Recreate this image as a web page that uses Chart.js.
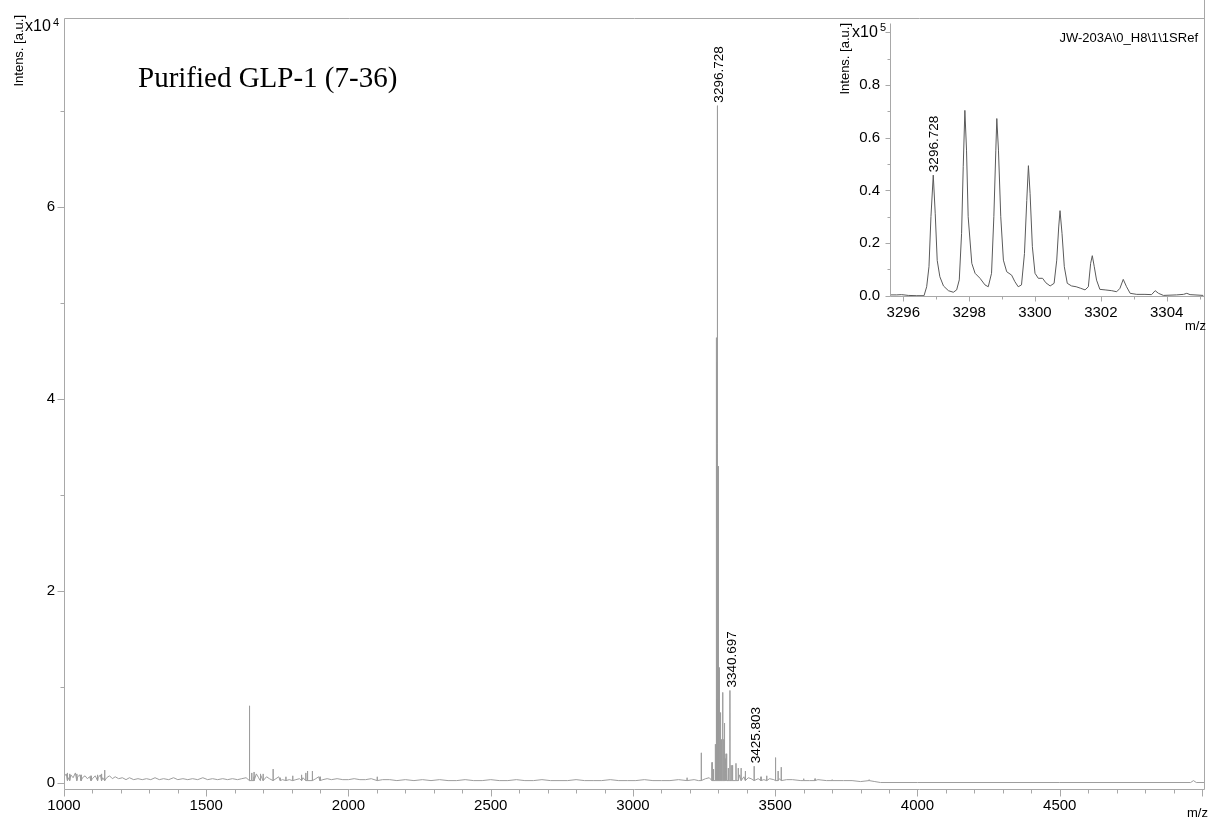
<!DOCTYPE html>
<html><head><meta charset="utf-8">
<script src="https://cdn.jsdelivr.net/npm/chart.js@4/dist/chart.umd.min.js"></script>
<style>
html,body{margin:0;padding:0;background:#fff;}
#wrap{position:relative;width:1209px;height:821px;overflow:hidden;background:#fff;}
canvas{position:absolute;}
.t{position:absolute;font-family:"Liberation Sans",Arial,sans-serif;color:#000;white-space:nowrap;}
.v{writing-mode:vertical-rl;transform:rotate(180deg);}
</style></head>
<body>
<div id="wrap">
<canvas id="main" width="1209" height="821" style="left:0;top:0"></canvas>
<canvas id="inset" width="389" height="340" style="left:820px;top:0"></canvas>
<div class="t" style="left:138px;top:63px;font-family:'Liberation Serif','Times New Roman',serif;font-size:29px;line-height:29px;">Purified GLP-1 (7-36)</div>
<div class="t v" style="left:12px;top:15px;font-size:13px;line-height:13px;">Intens. [a.u.]</div>
<div class="t" style="left:25px;top:18px;font-size:16px;line-height:16px;">x10</div>
<div class="t" style="left:53px;top:17px;font-size:11px;line-height:11px;">4</div>
<div class="t" style="left:1187px;top:806px;font-size:13px;line-height:13px;">m/z</div>
<div class="t v" style="left:838px;top:23px;font-size:13px;line-height:13px;">Intens. [a.u.]</div>
<div class="t" style="left:852px;top:24px;font-size:16px;line-height:16px;">x10</div>
<div class="t" style="left:880px;top:22px;font-size:11px;line-height:11px;">5</div>
<div class="t" style="right:11px;top:31px;font-size:13px;line-height:13px;">JW-203A\0_H8\1\1SRef</div>
<div class="t" style="left:1185px;top:319px;font-size:13px;line-height:13px;">m/z</div>
</div>
<script>
// ---------- Main spectrum (intensity in units of 10^4) ----------
const noiseMz = [1000,1008,1015,1024,1032,1040,1048,1056,1065,1074,1082,1090,1100,1110,1120,1128,1136,1150,1160,1170,1180,1192,1205,1218,1230,1245,1260,1275,1290,1305,1320,1335,1350,1368,1385,1400,1418,1435,1452,1470,1488,1505,1522,1540,1558,1575,1592,1610,1625,1640,1660,1668,1676,1684,1692,1700,1712,1722,1745,1755,1768,1780,1792,1815,1828,1840,1885,1895,1910,1925,1940,1960,1980,2000,2020,2040,2060,2080,2120,2145,2170,2200,2230,2260,2290,2320,2350,2380,2410,2440,2470,2500,2530,2560,2590,2620,2650,2680,2710,2740,2770,2800,2830,2860,2890,2920,2950,2980,3010,3040,3070,3100,3130,3160,3190,3215,3230,3255,3268,3350,3375,3390,3405,3415,3440,3460,3480,3495,3515,3540,3560,3590,3620,3650,3680,3710,3740,3770,3800,3830,3850,3870,4000,4500,4960,4970,4980,5010];
const noiseInt = [0.06,0.09,0.05,0.08,0.05,0.10,0.06,0.08,0.05,0.07,0.04,0.06,0.04,0.07,0.05,0.08,0.05,0.05,0.07,0.04,0.06,0.04,0.05,0.03,0.05,0.03,0.04,0.03,0.04,0.03,0.05,0.03,0.04,0.03,0.05,0.03,0.04,0.03,0.04,0.03,0.05,0.03,0.04,0.03,0.04,0.03,0.04,0.03,0.04,0.05,0.09,0.06,0.09,0.05,0.08,0.04,0.06,0.04,0.04,0.06,0.03,0.05,0.03,0.03,0.04,0.05,0.04,0.06,0.03,0.04,0.03,0.04,0.03,0.03,0.04,0.03,0.03,0.04,0.03,0.03,0.02,0.03,0.02,0.03,0.02,0.03,0.02,0.02,0.03,0.02,0.02,0.03,0.02,0.02,0.03,0.02,0.02,0.03,0.02,0.02,0.02,0.03,0.02,0.02,0.02,0.03,0.02,0.02,0.02,0.03,0.02,0.02,0.02,0.03,0.02,0.03,0.02,0.04,0.05,0.10,0.08,0.06,0.05,0.04,0.04,0.03,0.04,0.03,0.04,0.03,0.03,0.02,0.02,0.03,0.02,0.02,0.02,0.02,0.01,0.02,0.01,0.00,0.00,0.00,0.00,0.02,0.00,0.00];
const peakMz  = [1012,1020,1045,1060,1095,1118,1132,1143,1652,1660,1668,1690,1700,1735,1760,1780,1804,1835,1850,1856,1873,1900,2101,3190,3240,3278,3283,3289.5,3293.2,3296.728,3300.2,3303.7,3307.6,3310,3312,3314.6,3316,3318.6,3321.6,3324,3327,3330,3335,3340.697,3345,3350,3362,3370,3380,3395,3425.803,3450,3470,3501,3510,3521,3600,3640,3700,3830];
const peakInt = [0.10,0.09,0.09,0.08,0.07,0.08,0.09,0.13,0.80,0.10,0.11,0.09,0.09,0.14,0.05,0.06,0.07,0.08,0.10,0.12,0.12,0.06,0.06,0.05,0.31,0.21,0.14,0.40,4.64,7.06,3.30,1.20,0.73,0.30,0.45,0.94,0.38,0.45,0.62,0.25,0.30,0.20,0.15,0.96,0.18,0.18,0.20,0.15,0.15,0.12,0.17,0.06,0.07,0.26,0.12,0.16,0.04,0.04,0.03,0.03];
const mainLabelMz = [3296.728,3340.697,3425.803];
const mainLabelText = ['3296.728','3340.697','3425.803'];
const xMajor = [1000,1500,2000,2500,3000,3500,4000,4500,5000];
const xMajorLabels = ['1000','1500','2000','2500','3000','3500','4000','4500',''];
const xMinor = [1100,1200,1300,1400,1600,1700,1800,1900,2100,2200,2300,2400,2600,2700,2800,2900,3100,3200,3300,3400,3600,3700,3800,3900,4100,4200,4300,4400,4600,4700,4800,4900];
const yMajor = [0,2,4,6];
const yMajorLabels = ['0','2','4','6'];
const yMinor = [1,3,5,7];

// ---------- Inset (intensity in units of 10^5) ----------
const insetMz = [3295.59,3295.80,3295.95,3296.15,3296.41,3296.63,3296.71,3296.78,3296.84,3296.91,3296.97,3297.03,3297.11,3297.22,3297.37,3297.52,3297.62,3297.70,3297.77,3297.82,3297.87,3297.92,3297.97,3298.08,3298.18,3298.33,3298.48,3298.58,3298.68,3298.75,3298.81,3298.84,3298.89,3298.96,3299.04,3299.14,3299.29,3299.39,3299.49,3299.59,3299.68,3299.75,3299.80,3299.85,3299.92,3300.00,3300.10,3300.23,3300.33,3300.46,3300.58,3300.66,3300.72,3300.76,3300.82,3300.89,3300.98,3301.11,3301.25,3301.39,3301.52,3301.62,3301.69,3301.74,3301.80,3301.87,3301.97,3302.13,3302.33,3302.48,3302.58,3302.68,3302.78,3302.89,3303.09,3303.34,3303.54,3303.65,3303.75,3303.90,3304.30,3304.51,3304.61,3304.71,3305.11];
const insetInt = [0.003,0.003,0.004,0.001,0.000,0.000,0.034,0.110,0.301,0.458,0.311,0.134,0.072,0.037,0.019,0.013,0.022,0.060,0.237,0.490,0.704,0.553,0.300,0.123,0.085,0.066,0.041,0.034,0.085,0.300,0.553,0.673,0.553,0.300,0.135,0.091,0.078,0.053,0.034,0.041,0.160,0.362,0.494,0.389,0.186,0.085,0.066,0.066,0.049,0.037,0.047,0.135,0.261,0.323,0.237,0.110,0.047,0.037,0.034,0.028,0.022,0.034,0.123,0.152,0.110,0.059,0.024,0.022,0.019,0.015,0.028,0.062,0.034,0.009,0.005,0.005,0.004,0.019,0.009,0.001,0.003,0.005,0.009,0.004,0.001];
const insetLabelMz = [3296.91];
const insetLabelText = ['3296.728'];
const insetXMajor = [3296,3298,3300,3302,3304];
const insetXMajorLabels = ['3296','3298','3300','3302','3304'];
const insetXMinor = [3297,3299,3301,3303,3305];
const insetYMajor = [0,0.2,0.4,0.6,0.8,1.0];
const insetYMajorLabels = ['0.0','0.2','0.4','0.6','0.8',''];
const insetYMinor = [0.1,0.3,0.5,0.7,0.9];

// build main profile: noise points + stick peaks (with narrow flanks at baseline)
const mainPts = noiseMz.map((m,i)=>({x:m,y:noiseInt[i]}));
peakMz.forEach((m,i)=>{
  mainPts.push({x:m-0.3,y:0.02},{x:m,y:peakInt[i]},{x:m+0.3,y:0.02});
});
mainPts.sort((a,b)=>a.x-b.x);
const insetPts = insetMz.map((m,i)=>({x:m,y:insetInt[i]}));

const FONT = "'Liberation Sans', Arial, sans-serif";
const idx = (arr,v)=>arr.findIndex(a=>Math.abs(a-v)<1e-9);

const tickFrame = {
  id:'tickFrame',
  afterDraw(chart, args, o){
    const ctx=chart.ctx, a=chart.chartArea, xs=chart.scales.x, ys=chart.scales.y;
    ctx.save();
    ctx.strokeStyle=o.color; ctx.lineWidth=1;
    const L=Math.round(a.left)+0.5, R=Math.round(a.right)-0.5, T=Math.round(a.top)+0.5, B=Math.round(a.bottom)-0.5;
    ctx.beginPath();
    ctx.moveTo(L,T); ctx.lineTo(L,B); ctx.lineTo(R,B); ctx.lineTo(R,o.topLine?T:o.rightTop);
    if(o.topLine){ ctx.moveTo(L,T); ctx.lineTo(R,T); }
    o.xMajor.forEach(v=>{const p=Math.round(xs.getPixelForValue(v))+0.5; ctx.moveTo(p,B); ctx.lineTo(p,B+o.majorLen);});
    o.xMinor.forEach(v=>{const p=Math.round(xs.getPixelForValue(v))+0.5; ctx.moveTo(p,B); ctx.lineTo(p,B+o.minorLen);});
    o.yMajor.forEach(v=>{const p=Math.round(ys.getPixelForValue(v))+0.5; ctx.moveTo(L,p); ctx.lineTo(L-o.majorLen,p);});
    o.yMinor.forEach(v=>{const p=Math.round(ys.getPixelForValue(v))+0.5; ctx.moveTo(L,p); ctx.lineTo(L-o.minorLen,p);});
    ctx.stroke();
    // peak annotations
    ctx.fillStyle='#000';
    ctx.font = o.labelFont;
    ctx.textAlign='left'; ctx.textBaseline='middle';
    o.labelMz.forEach((m,i)=>{
      const k = idx(o.srcMz,m);
      const h = o.srcInt[k];
      const px = xs.getPixelForValue(m)+o.labelDx, py = ys.getPixelForValue(h)-3;
      ctx.save(); ctx.translate(px,py); ctx.rotate(-Math.PI/2); ctx.fillText(o.labelText[i],0,0); ctx.restore();
    });
    ctx.restore();
  }
};

function axisX(min,max,major,majorLabels,minor,h){
  return {type:'linear',min:min,max:max,
    afterBuildTicks:s=>{s.ticks=major.concat(minor).sort((a,b)=>a-b).map(v=>({value:v}));},
    afterFit:s=>{s.height=h;},
    grid:{display:false,drawTicks:false},border:{display:false},
    ticks:{padding:7,autoSkip:false,maxRotation:0,minRotation:0,color:'#000',font:{family:FONT,size:15},
      callback:(v)=>{const i=idx(major,v);return i>=0?majorLabels[i]:'';}}};
}
function axisY(min,max,major,majorLabels,minor,w,pad){
  return {type:'linear',min:min,max:max,
    afterBuildTicks:s=>{s.ticks=major.concat(minor).sort((a,b)=>a-b).map(v=>({value:v}));},
    afterFit:s=>{s.width=w;},
    grid:{display:false,drawTicks:false},border:{display:false},
    ticks:{padding:pad,autoSkip:false,color:'#000',font:{family:FONT,size:15},
      callback:(v)=>{const i=idx(major,v);return i>=0?majorLabels[i]:'';}}};
}

new Chart(document.getElementById('main'),{
  type:'scatter',
  data:{datasets:[{data:mainPts,showLine:true,borderColor:'#9d9d9d',borderWidth:1,pointRadius:0,tension:0}]},
  options:{responsive:false,animation:false,events:[],
    layout:{padding:{top:15,right:4,left:0,bottom:0}},
    plugins:{legend:{display:false},tooltip:{enabled:false},
      tickFrame:{color:'#a8a8a8',topLine:true,majorLen:7,minorLen:4,
        xMajor:xMajor,xMinor:xMinor,yMajor:yMajor,yMinor:yMinor,
        labelMz:mainLabelMz,labelText:mainLabelText,srcMz:peakMz,srcInt:peakInt,labelDx:2,
        labelFont:"13.5px "+FONT}},
    scales:{
      x:axisX(1000,5010,xMajor,xMajorLabels,xMinor,31),
      y:axisY(-0.078,7.974,yMajor,yMajorLabels,yMinor,64,9)
    }},
  plugins:[tickFrame]
});

new Chart(document.getElementById('inset'),{
  type:'scatter',
  data:{datasets:[{data:insetPts,showLine:true,borderColor:'#5a5a5a',borderWidth:1,pointRadius:0,tension:0}]},
  options:{responsive:false,animation:false,events:[],
    layout:{padding:{top:23,right:4,left:0,bottom:0}},
    plugins:{legend:{display:false},tooltip:{enabled:false},
      tickFrame:{color:'#a8a8a8',topLine:false,rightTop:0,majorLen:5,minorLen:3,
        xMajor:insetXMajor,xMinor:insetXMinor,yMajor:insetYMajor,yMinor:insetYMinor,
        labelMz:insetLabelMz,labelText:insetLabelText,srcMz:insetMz,srcInt:insetInt,labelDx:1,
        labelFont:"13.5px "+FONT}},
    scales:{
      x:axisX(3295.596,3305.163,insetXMajor,insetXMajorLabels,insetXMinor,43),
      y:axisY(-0.005,1.036,insetYMajor,insetYMajorLabels,insetYMinor,70,10)
    }},
  plugins:[tickFrame]
});
</script>
</body></html>
